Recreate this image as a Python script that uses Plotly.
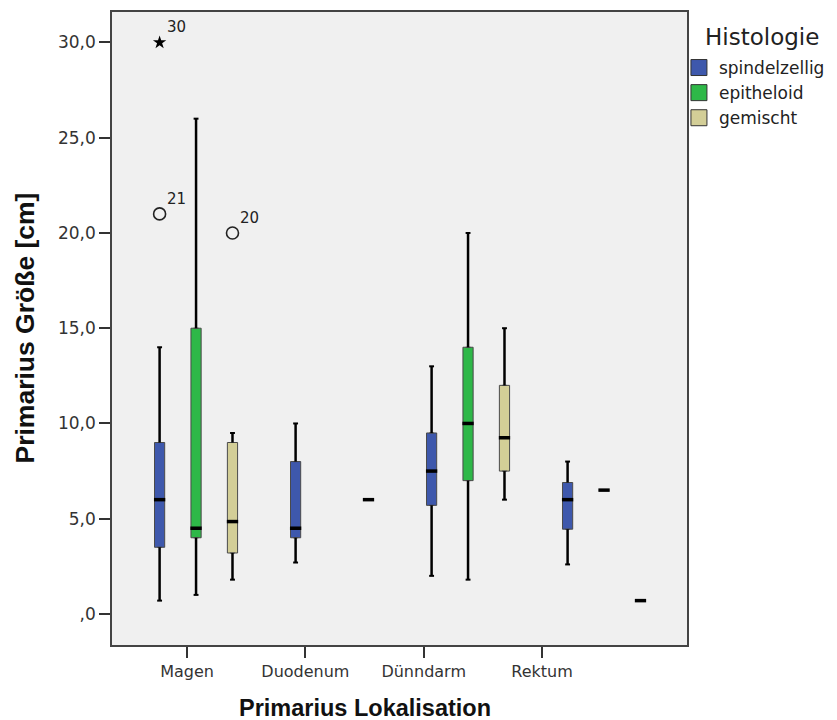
import plotly.graph_objects as go

categories = ["Magen", "Duodenum", "Dünndarm", "Rektum"]
series_names = ["spindelzellig", "epitheloid", "gemischt"]
series_colors = ["#3E58AC", "#2EB848", "#D3CE97"]

spindel_lower = [0.7, 2.7, 2.0, 2.6]
spindel_q1 = [3.5, 4.0, 5.7, 4.45]
spindel_median = [6.0, 4.5, 7.5, 6.0]
spindel_q3 = [9.0, 8.0, 9.5, 6.9]
spindel_upper = [14.0, 10.0, 13.0, 8.0]

epith_lower = [1.0, None, 1.8, 6.5]
epith_q1 = [4.0, None, 7.0, 6.5]
epith_median = [4.5, None, 10.0, 6.5]
epith_q3 = [15.0, None, 14.0, 6.5]
epith_upper = [26.0, None, 20.0, 6.5]

gem_lower = [1.8, 6.0, 6.0, 0.7]
gem_q1 = [3.2, 6.0, 7.5, 0.7]
gem_median = [4.85, 6.0, 9.25, 0.7]
gem_q3 = [9.0, 6.0, 12.0, 0.7]
gem_upper = [9.5, 6.0, 15.0, 0.7]

outlier_category = ["Magen", "Magen", "Magen"]
outlier_series = ["spindelzellig", "spindelzellig", "gemischt"]
outlier_values = [30.0, 21.0, 20.0]
outlier_labels = ["30", "21", "20"]
outlier_extreme = [True, False, False]

y_tick_values = [0, 5, 10, 15, 20, 25, 30]

x_title = "Primarius Lokalisation"
y_title = "Primarius Größe [cm]"
legend_title = "Histologie"

stats = [
    (spindel_lower, spindel_q1, spindel_median, spindel_q3, spindel_upper),
    (epith_lower, epith_q1, epith_median, epith_q3, epith_upper),
    (gem_lower, gem_q1, gem_median, gem_q3, gem_upper),
]

# layout constants
SERIES_STEP = 0.268
BOX_W = 0.075
CAP = 0.018
FONT = "DejaVu Sans"
TFONT = "Liberation Sans"


def xpos(gi, si):
    return gi + (si - 1) * SERIES_STEP


fig = go.Figure()

for si, (name, color) in enumerate(zip(series_names, series_colors)):
    lo, q1, med, q3, up = stats[si]
    xs, bq1, bmed, bq3 = [], [], [], []
    wx, wy, cx, cy, mx, my = [], [], [], [], [], []
    for gi in range(len(categories)):
        if med[gi] is None:
            continue
        x = xpos(gi, si)
        xs.append(x)
        bq1.append(q1[gi]); bmed.append(med[gi]); bq3.append(q3[gi])
        if up[gi] > q3[gi]:
            wx += [x, x, None]; wy += [q3[gi], up[gi], None]
            cx += [x - CAP, x + CAP, None]; cy += [up[gi], up[gi], None]
        if lo[gi] < q1[gi]:
            wx += [x, x, None]; wy += [lo[gi], q1[gi], None]
            cx += [x - CAP, x + CAP, None]; cy += [lo[gi], lo[gi], None]
        mx += [x - BOX_W / 2 - 0.004, x + BOX_W / 2 + 0.004, None]
        my += [med[gi], med[gi], None]
    fig.add_trace(go.Box(
        x=xs, q1=bq1, median=bmed, q3=bq3, lowerfence=bq1, upperfence=bq3,
        width=BOX_W, fillcolor=color, line=dict(color="#4a4a4a", width=1),
        showlegend=False, hoverinfo="skip", boxpoints=False, name=name,
    ))
    fig.add_trace(go.Scatter(x=wx, y=wy, mode="lines", line=dict(color="black", width=2.5),
                             showlegend=False, hoverinfo="skip"))
    fig.add_trace(go.Scatter(x=cx, y=cy, mode="lines", line=dict(color="black", width=2),
                             showlegend=False, hoverinfo="skip"))
    fig.add_trace(go.Scatter(x=mx, y=my, mode="lines", line=dict(color="black", width=3.5),
                             showlegend=False, hoverinfo="skip"))

# outliers
for cat, ser, val, lab, ext in zip(outlier_category, outlier_series, outlier_values,
                                   outlier_labels, outlier_extreme):
    x = xpos(categories.index(cat), series_names.index(ser))
    if ext:
        marker = dict(symbol="star", size=10, color="black")
    else:
        marker = dict(symbol="circle-open", size=12, color="#222", line=dict(width=1.6))
    fig.add_trace(go.Scatter(x=[x], y=[val], mode="markers", marker=marker,
                             showlegend=False, hoverinfo="skip"))
    fig.add_annotation(x=x, y=val, text=lab, showarrow=False, xshift=17, yshift=15,
                       font=dict(family=FONT, size=15, color="#222"))

# legend entries
for name, color in zip(series_names, series_colors):
    fig.add_trace(go.Scatter(x=[None], y=[None], mode="markers", name=name,
                             marker=dict(symbol="square", size=18, color=color,
                                         line=dict(color="#333", width=1))))

tick_positions = [-0.066 + i * 0.870 for i in range(len(categories))]
y_tick_text = [("%.1f" % v).replace(".", ",").lstrip("0") if v == 0 else ("%.1f" % v).replace(".", ",")
               for v in y_tick_values]

fig.add_annotation(xref="paper", yref="paper", x=1.028, y=0.961, xanchor="left",
                   yanchor="middle", text=legend_title, showarrow=False,
                   font=dict(family=FONT, size=23, color="#222"))
fig.add_annotation(xref="x", yref="paper", x=(tick_positions[0] + tick_positions[-1]) / 2,
                   y=-0.0995, xanchor="center", yanchor="middle", showarrow=False,
                   text="<b>%s</b>" % x_title, font=dict(family=TFONT, size=23.5, color="#111"))
fig.add_annotation(xref="paper", yref="paper", x=-0.153, y=0.5, textangle=-90,
                   xanchor="center", yanchor="middle", showarrow=False,
                   text="<b>%s</b>" % y_title, font=dict(family=TFONT, size=26.5, color="#111"))

fig.update_layout(
    width=837, height=720,
    margin=dict(l=112, r=150, t=12, b=75, autoexpand=False),
    paper_bgcolor="white", plot_bgcolor="#F0F0F0",
    font=dict(family=FONT, color="#333"),
    legend=dict(
        font=dict(family=FONT, size=17, color="#222"),
        x=0.986, xanchor="left", y=0.940, yanchor="top",
        itemwidth=30, tracegroupgap=0, bgcolor="rgba(0,0,0,0)",
    ),
    xaxis=dict(
        range=[-0.618, 3.61], tickvals=tick_positions, ticktext=categories,
        ticks="outside", ticklen=11, tickwidth=1.5, tickcolor="#333",
        showgrid=False, zeroline=False, showline=True, linecolor="#444", linewidth=1.5,
        mirror=True, tickfont=dict(family=FONT, size=16, color="#333"),
    ),
    yaxis=dict(
        range=[-1.63, 31.6], tickvals=y_tick_values, ticktext=y_tick_text,
        ticks="outside", ticklen=11, tickwidth=1.5, tickcolor="#333",
        showgrid=False, zeroline=False, showline=True, linecolor="#444", linewidth=1.5,
        mirror=True, tickfont=dict(family=FONT, size=17, color="#333"),
    ),
)

fig.write_html("out.html")
